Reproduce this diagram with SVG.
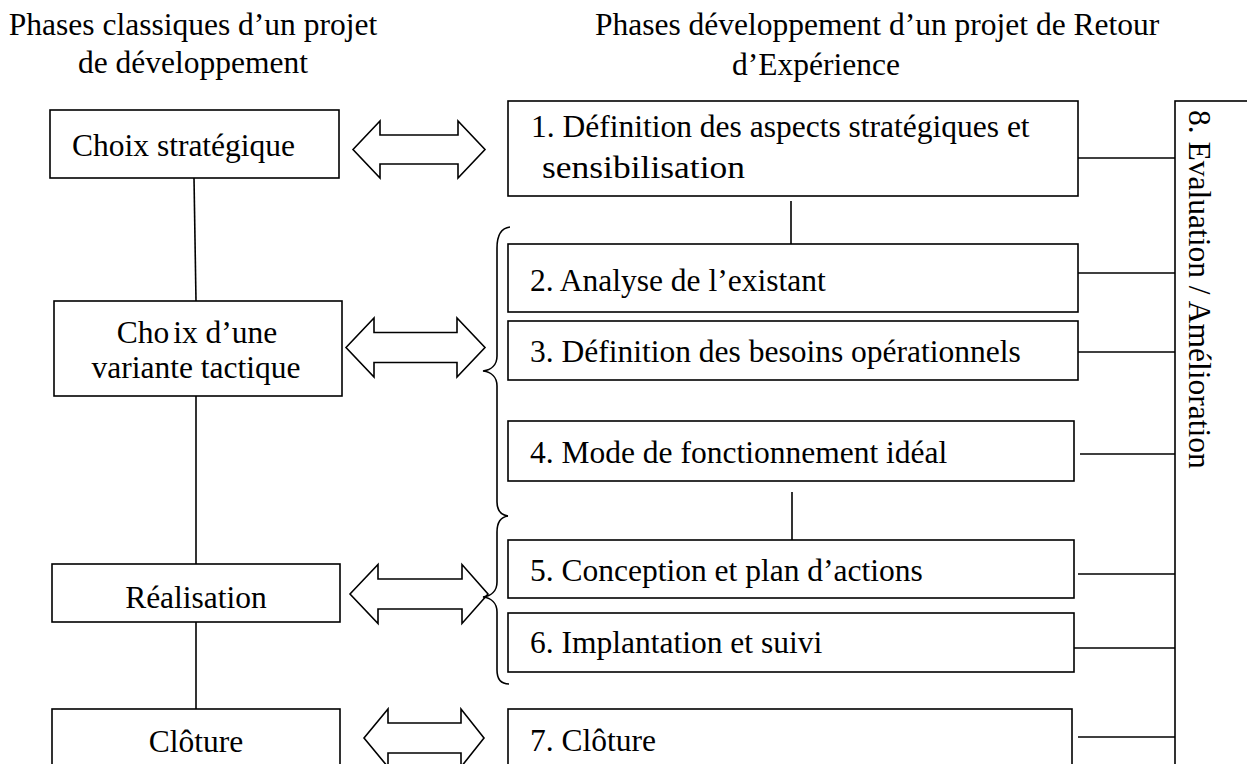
<svg xmlns="http://www.w3.org/2000/svg" width="1247" height="764" viewBox="0 0 1247 764">
<style>
.t{font-family:"Liberation Serif","Times New Roman",serif;font-size:31.5px;fill:#000}
.m{text-anchor:middle}
.b{fill:#fff;stroke:#000;stroke-width:1.6}
.c{fill:none;stroke:#000;stroke-width:1.6}
.a{fill:#fff;stroke:#000;stroke-width:1.6;stroke-linejoin:miter}
</style>
<rect width="1247" height="764" fill="#fff"/>
<g id="titles">
<text class="t m" x="193" y="35">Phases classiques d’un projet</text>
<text class="t m" x="193" y="73">de développement</text>
<text class="t" x="595" y="35">Phases développement d’un projet de Retour</text>
<text class="t" x="732" y="75">d’Expérience</text>
</g>
<g id="connectors">
<line class="c" x1="194" y1="178" x2="196" y2="301"/>
<line class="c" x1="196" y1="396" x2="196" y2="564"/>
<line class="c" x1="196" y1="622" x2="196" y2="709"/>
<line class="c" x1="791" y1="201" x2="791" y2="249"/>
<line class="c" x1="792" y1="492" x2="792" y2="545"/>
<line class="c" x1="1078" y1="158" x2="1175" y2="158"/>
<line class="c" x1="1078" y1="273" x2="1175" y2="273"/>
<line class="c" x1="1078" y1="352" x2="1175" y2="352"/>
<line class="c" x1="1080" y1="454" x2="1175" y2="454"/>
<line class="c" x1="1078" y1="574" x2="1175" y2="574"/>
<line class="c" x1="1074" y1="648" x2="1175" y2="648"/>
<line class="c" x1="1078" y1="737" x2="1175" y2="737"/>
<polygon class="a" points="353,149.5 380,121 380,135 458,135 458,121 485,149.5 458,178 458,164 380,164 380,178"/>
<polygon class="a" points="346,347.5 374,318 374,332.5 457,332.5 457,318 485,347.5 457,377 457,362.5 374,362.5 374,377"/>
<polygon class="a" points="350,594 378,564.5 378,579 462,579 462,564.5 488,594 462,623.5 462,609 378,609 378,623.5"/>
<polygon class="a" points="364,738 388,709 388,723 461,723 461,709 484,738 461,767 461,753 388,753 388,767"/>
<path class="c" d="M510 227 C501 228 497 236 497 248 L497 356 C497 365 491 370 483 371 C491 372 497 377 497 386 L497 502 C497 510 501 515 508 516"/>
<path class="c" d="M508 516 C501 517 497 522 497 532 L497 582 C497 591 491 596 483 597 C491 598 497 603 497 612 L497 670 C497 679 501 684 509 684"/>
</g>
<g id="n-choix-strategique">
<rect class="b" x="50" y="110" width="289" height="68"/>
<text class="t" x="72" y="156">Choix stratégique</text>
</g>
<g id="n-choix-variante">
<rect class="b" x="54" y="301" width="288" height="95"/>
<text class="t m" x="197" y="343">Cho<tspan dx="4">ix d’une</tspan></text>
<text class="t m" x="196" y="378">variante tactique</text>
</g>
<g id="n-realisation">
<rect class="b" x="52" y="564" width="288" height="58"/>
<text class="t m" x="196" y="608">Réalisation</text>
</g>
<g id="n-cloture">
<rect class="b" x="52" y="709" width="288" height="70"/>
<text class="t m" x="196" y="752">Clôture</text>
</g>
<g id="n-1">
<rect class="b" x="508" y="101" width="570" height="95"/>
<text class="t" x="531" y="137">1. Définition des aspects stratégiques et</text>
<text class="t" x="542" y="178" textLength="203" lengthAdjust="spacingAndGlyphs">sensibilisation</text>
</g>
<g id="n-2">
<rect class="b" x="508" y="244" width="570" height="68"/>
<text class="t" x="530" y="291">2. Analyse de l’existant</text>
</g>
<g id="n-3">
<rect class="b" x="508" y="321" width="570" height="59"/>
<text class="t" x="530" y="362">3. Définition des besoins opérationnels</text>
</g>
<g id="n-4">
<rect class="b" x="508" y="421" width="566" height="60"/>
<text class="t" x="530" y="463">4. Mode de fonctionnement idéal</text>
</g>
<g id="n-5">
<rect class="b" x="508" y="540" width="566" height="58"/>
<text class="t" x="530" y="581">5. Conception et plan d’actions</text>
</g>
<g id="n-6">
<rect class="b" x="508" y="613" width="566" height="59"/>
<text class="t" x="530" y="653">6. Implantation et suivi</text>
</g>
<g id="n-7">
<rect class="b" x="508" y="709" width="564" height="70"/>
<text class="t" x="530" y="751">7. Clôture</text>
</g>
<g id="n-8">
<rect class="b" x="1175" y="101" width="90" height="680"/>
<text class="t" transform="translate(1189,110) rotate(90)">8. Evaluation / Amélioration</text>
</g>
</svg>
